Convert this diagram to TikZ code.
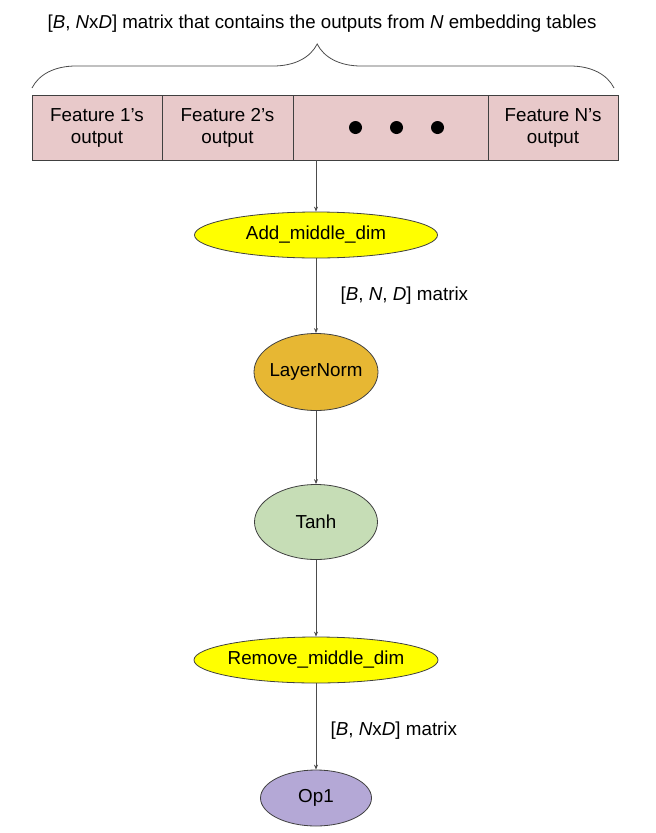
\documentclass[tikz,border=0pt]{standalone}
\usepackage{fontspec}
\setmainfont{Liberation Sans}
\usetikzlibrary{shapes.geometric,arrows.meta,decorations.pathreplacing}
\definecolor{boxpink}{HTML}{E8C9CA}
\definecolor{opyellow}{HTML}{FFFF00}
\definecolor{lngold}{HTML}{E7B733}
\definecolor{tanhgreen}{HTML}{C6DDB6}
\definecolor{oplav}{HTML}{B4A8D6}
\begin{document}
\begin{tikzpicture}[x=1pt,y=-1pt,
  txt/.style={font=\fontsize{18.8}{22}\selectfont},
  cell/.style={txt,draw=black!75,fill=boxpink,line width=0.8pt,minimum height=65pt,inner sep=0pt,align=center},
  op/.style={txt,ellipse,draw=black!75,line width=0.8pt,inner sep=-3pt},
  conn/.style={draw=black!70,line width=0.7pt,-{Stealth[length=5pt,width=4pt]}},
  lbl/.style={txt,anchor=west}
]
\useasboundingbox (0,0) rectangle (656,833);
\node[font=\fontsize{18.7}{22}\selectfont] (title) at (322,24) {[\textit{B}, \textit{N}x\textit{D}] matrix that contains the outputs from \textit{N} embedding tables};
\coordinate (bl) at (32,88);
\coordinate (br) at (614,88);
\draw[black!70,line width=0.8pt,decorate,decoration={brace,amplitude=44pt,aspect=0.49}] (bl) -- (br);
\node[cell,minimum width=130pt] (f1) at (97,127.5) {Feature 1's\\output};
\node[cell,minimum width=131pt] (f2) at (227.5,127.5) {Feature 2's\\output};
\node[cell,minimum width=195pt] (dots) at (390.5,127.5) {};
\node[cell,minimum width=130pt] (fn) at (553,127.5) {Feature N's\\output};
\fill (dots.center) ++(-35,0) circle (6.5pt) ++(41,0) circle (6.5pt) ++(41,0) circle (6.5pt);
\node[op,fill=opyellow,minimum width=243pt,minimum height=46pt] (add) at (316,235) {Add\_middle\_dim};
\node[op,fill=lngold,minimum width=124pt,minimum height=77pt] (ln) at (316,372) {LayerNorm};
\node[op,fill=tanhgreen,minimum width=123pt,minimum height=75pt] (tanh) at (316,522) {Tanh};
\node[op,fill=opyellow,minimum width=244pt,minimum height=46pt] (rem) at (316,660) {Remove\_middle\_dim};
\node[op,fill=oplav,minimum width=111pt,minimum height=56pt] (op1) at (316,798) {Op1};
\draw[conn] (dots.south -| add.north) -- (add.north);
\draw[conn] (add) -- (ln) node[lbl,pos=0.5,xshift=21pt] {[\textit{B}, \textit{N}, \textit{D}] matrix};
\draw[conn] (ln) -- (tanh);
\draw[conn] (tanh) -- (rem);
\draw[conn] (rem) -- (op1) node[lbl,pos=0.55,xshift=11pt] {[\textit{B}, \textit{N}x\textit{D}] matrix};
\end{tikzpicture}
\end{document}
